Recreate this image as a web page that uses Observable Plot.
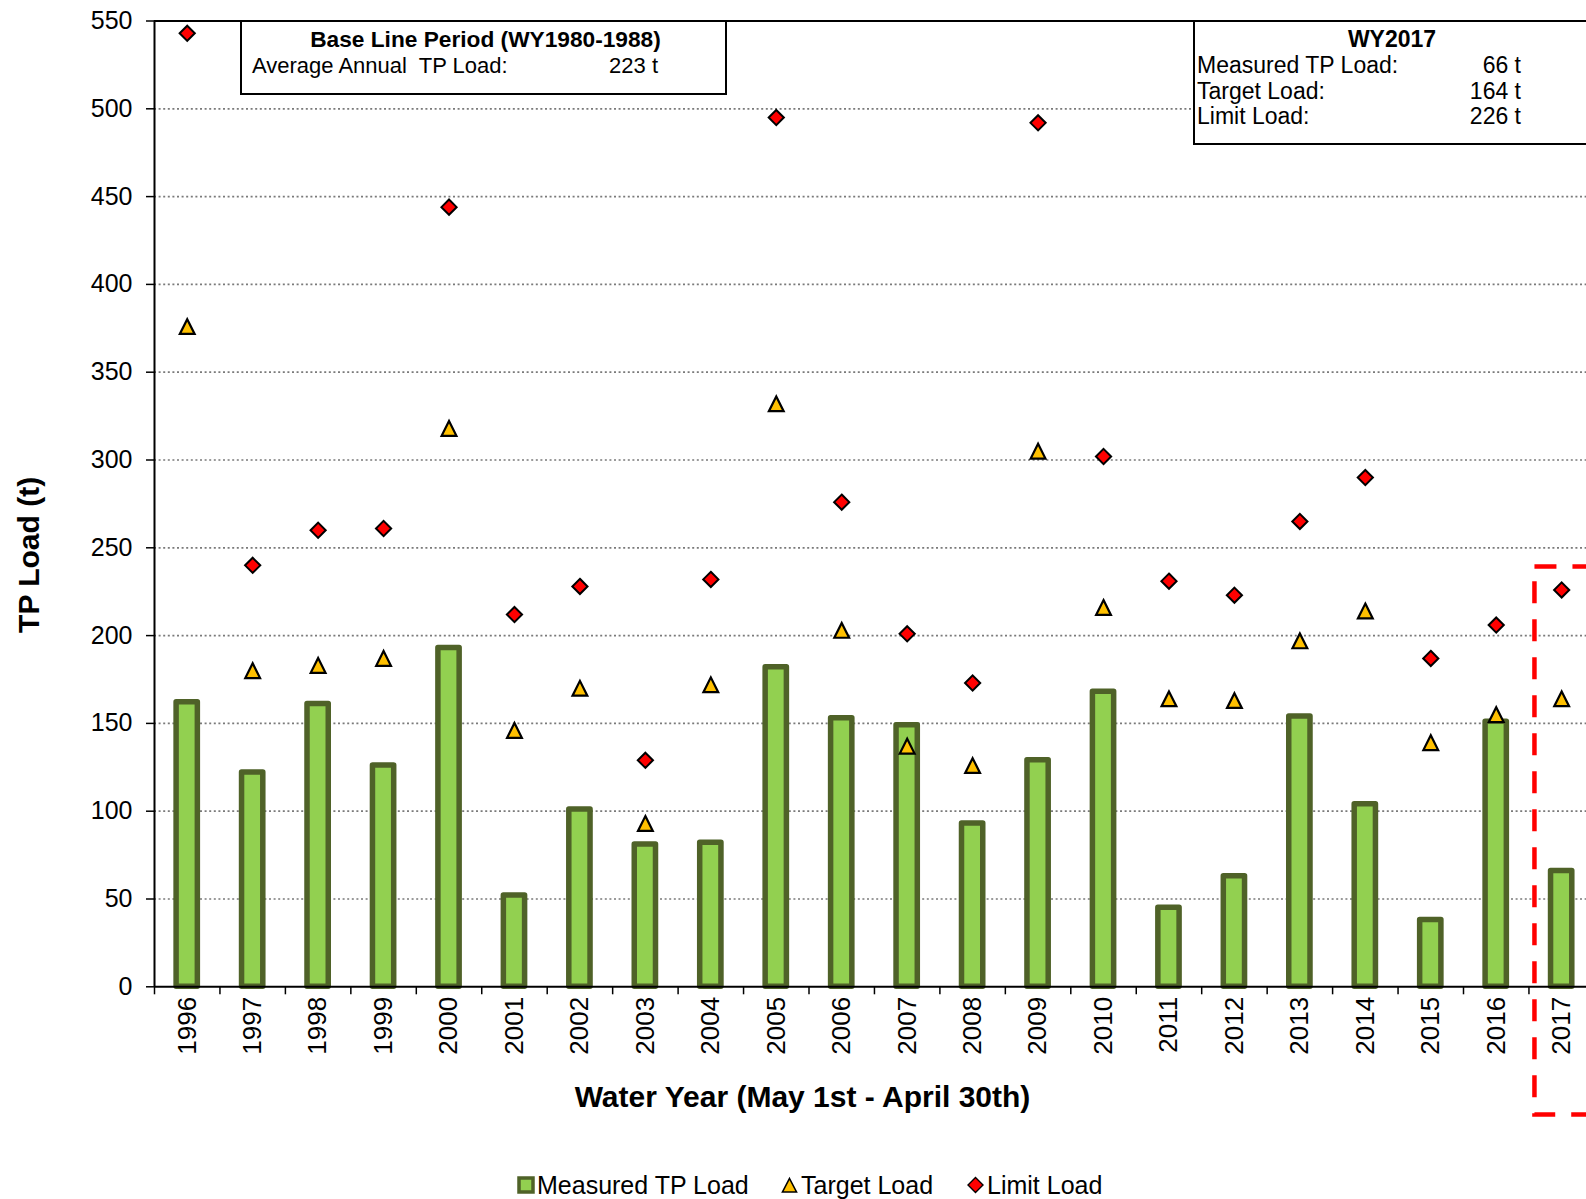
<!DOCTYPE html>
<html>
<head>
<meta charset="utf-8">
<script src="https://cdn.jsdelivr.net/npm/d3@7"></script>
<script src="https://cdn.jsdelivr.net/npm/@observablehq/plot@0.6"></script>
<style>
  html, body { margin: 0; padding: 0; background: #fff; overflow: hidden; }
  #wrap { position: relative; width: 1586px; height: 1199px; overflow: hidden; background: #fff;
          font-family: "Liberation Sans", Arial, sans-serif; color: #000; }
  #chart { position: absolute; left: 0; top: 0; }
  .box { position: absolute; background: #fff; border: 2px solid #000; box-sizing: border-box; font-size: 22px; }
  .box .ln { position: absolute; line-height: 25px; white-space: pre; }
  .box .b { font-weight: bold; }
  #legend { position: absolute; top: 0; left: 0; width: 1586px; height: 1199px; font-size: 25px; line-height: 28px; white-space: nowrap; pointer-events: none; }
  #legend .item { position: absolute; top: 1171px; display: flex; align-items: center; }
  #legend svg { display: block; }
</style>
</head>
<body>
<div id="wrap">
  <div id="chart"></div>
  <div class="box" id="baseBox" style="left:240px; top:20px; width:487px; height:75px;">
    <div class="ln b" style="left:0; width:487px; text-align:center; top:5px; font-size:22.7px;" id="baseTitle"></div>
    <div class="ln" style="left:10px; top:31px;" id="baseLabel"></div>
    <div class="ln" style="right:67px; top:31px; text-align:right;" id="baseValue"></div>
  </div>
  <div class="box" id="wyBox" style="left:1193px; top:20px; width:460px; height:125px; font-size:23px;">
    <div class="ln b" style="left:0; width:394px; text-align:center; top:5px;" id="wyTitle"></div>
    <div id="wyRows"></div>
  </div>
  <div id="legend"></div>
</div>
<script>
// ---- data ----
const years = ["1996","1997","1998","1999","2000","2001","2002","2003","2004","2005","2006",
               "2007","2008","2009","2010","2011","2012","2013","2014","2015","2016","2017"];
const measured = [162, 122, 161, 126, 193, 52, 101, 81, 82, 182, 153,
                  149, 93, 129, 168, 45, 63, 154, 104, 38, 151, 66];
const target   = [376, 180, 183, 187, 318, 146, 170, 93, 172, 332, 203,
                  137, 126, 305, 216, 164, 163, 197, 214, 139, 155, 164];
const limit    = [543, 240, 260, 261, 444, 212, 228, 129, 232, 495, 276,
                  201, 173, 492, 302, 231, 223, 265, 290, 187, 206, 226];
const yTickValues = [0, 50, 100, 150, 200, 250, 300, 350, 400, 450, 500, 550];
const gridValues  = [50, 100, 150, 200, 250, 300, 350, 400, 450, 500];
const seriesNames = ["Measured TP Load", "Target Load", "Limit Load"];
const highlight = [{year: "2017", top: 239, bottom: -73}];
const baseLine = {title: "Base Line Period (WY1980-1988)", label: "Average Annual  TP Load:", value: "223 t"};
const wyTitle = "WY2017";
const wyLabels = ["Measured TP Load:", "Target Load:", "Limit Load:"];
const wyValues = ["66 t", "164 t", "226 t"];
const xTitle = "Water Year (May 1st - April 30th)";
const yTitle = "TP Load (t)";

const data = years.map((year, i) => ({year, measured: measured[i], target: target[i], limit: limit[i]}));

// ---- layout ----
const W = 1586, H = 1150;
const mL = 154, mT = 20.5, plotBottom = 986.3;
const mB = H - plotBottom;
const step = 65.45;
const xRange = [mL, mL + years.length * step];

const GREEN = "#92D050", GREEN_DARK = "#4F6228", GOLD = "#FFC000", RED = "#FF0000";

// Excel-like marker shapes: r = half width = half height
const excelTriangle = {
  draw(ctx, size) {
    const r = Math.sqrt(size / Math.PI);
    ctx.moveTo(0, -r); ctx.lineTo(r, r); ctx.lineTo(-r, r); ctx.closePath();
  }
};
const excelDiamond = {
  draw(ctx, size) {
    const r = Math.sqrt(size / Math.PI);
    ctx.moveTo(0, -r); ctx.lineTo(r, 0); ctx.lineTo(0, r); ctx.lineTo(-r, 0); ctx.closePath();
  }
};

const chart = Plot.plot({
  width: W, height: H,
  marginLeft: mL, marginRight: 0, marginTop: mT, marginBottom: mB,
  style: {fontFamily: "'Liberation Sans', Arial, sans-serif", background: "white", color: "black", overflow: "visible"},
  x: {type: "band", domain: years, range: xRange, padding: 0, round: false},
  y: {domain: [0, 550]},
  marks: [
    Plot.gridY(gridValues, {stroke: "#7a7a7a", strokeOpacity: 1, strokeWidth: 1.7, strokeDasharray: "2,2.6"}),
    Plot.barY(data, {x: "year", y: "measured", fill: GREEN, stroke: GREEN_DARK, strokeWidth: 5.5,
                     strokeLinejoin: "round", insetLeft: 22.1, insetRight: 22.1}),
    Plot.ruleY([0], {stroke: "black", strokeWidth: 2}),
    Plot.ruleY([550], {stroke: "black", strokeWidth: 2}),
    Plot.ruleX([years[0]], {x: d => d, dx: -step / 2, y1: 0, y2: 550, stroke: "black", strokeWidth: 2}),
    Plot.axisY({ticks: yTickValues, tickSize: 8, tickPadding: 14, fontSize: 25, label: null, tickFormat: d => String(d), strokeWidth: 1.5}),
    Plot.axisX({tickSize: 8, tickFormat: () => "", dx: -step / 2, label: null, strokeWidth: 1.5}),
    Plot.axisX({tickSize: 0, tickPadding: 10, tickRotate: -90, fontSize: 26, label: null}),
    Plot.dot(data, {x: "year", y: "target", symbol: excelTriangle, r: 7.4, fill: GOLD, stroke: "black", strokeWidth: 2.2, strokeLinejoin: "miter"}),
    Plot.dot(data, {x: "year", y: "limit", symbol: excelDiamond, r: 7.6, fill: RED, stroke: "black", strokeWidth: 2, strokeLinejoin: "miter"}),
    Plot.barY(highlight, {x: "year", y1: "bottom", y2: "top", fill: "none", stroke: RED, strokeWidth: 4.5,
                          strokeDasharray: "22,16", insetLeft: 6}),
    Plot.text([yTitle], {frameAnchor: "left", textAnchor: "middle", lineAnchor: "middle", dx: -125, dy: 51, rotate: -90, fontSize: 30, fontWeight: "bold"}),
    Plot.text([xTitle], {frameAnchor: "bottom", textAnchor: "middle", lineAnchor: "middle", dx: -68, dy: 111, fontSize: 30, fontWeight: "bold"})
  ]
});
document.getElementById("chart").appendChild(chart);

// ---- boxes ----
document.getElementById("baseTitle").textContent = baseLine.title;
document.getElementById("baseLabel").textContent = baseLine.label;
document.getElementById("baseValue").textContent = baseLine.value;
document.getElementById("wyTitle").textContent = wyTitle;
const rows = document.getElementById("wyRows");
wyLabels.forEach((lab, i) => {
  const top = 31 + i * 25.5;
  const l = document.createElement("div");
  l.className = "ln"; l.style.left = "2px"; l.style.top = top + "px"; l.textContent = lab;
  const v = document.createElement("div");
  v.className = "ln"; v.style.left = "0px"; v.style.width = "326px"; v.style.textAlign = "right";
  v.style.top = top + "px"; v.textContent = wyValues[i];
  rows.appendChild(l); rows.appendChild(v);
});

// ---- legend ----
const legend = document.getElementById("legend");
const swatches = [
  `<svg width="18" height="18"><rect x="2" y="2" width="14" height="14" fill="${GREEN}" stroke="${GREEN_DARK}" stroke-width="3.5"/></svg>`,
  `<svg width="19" height="18"><path d="M9.5,2.5 L16.5,16 L2.5,16 Z" fill="${GOLD}" stroke="black" stroke-width="1.6"/></svg>`,
  `<svg width="19" height="18"><path d="M9.5,1.5 L17,9 L9.5,16.5 L2,9 Z" fill="${RED}" stroke="black" stroke-width="1.4"/></svg>`
];
const itemLeft = [517, 780, 966];
seriesNames.forEach((name, i) => {
  const it = document.createElement("div");
  it.className = "item";
  it.style.left = itemLeft[i] + "px";
  it.innerHTML = swatches[i] + `<span style="margin-left:2px">${name}</span>`;
  legend.appendChild(it);
});
</script>
</body>
</html>
